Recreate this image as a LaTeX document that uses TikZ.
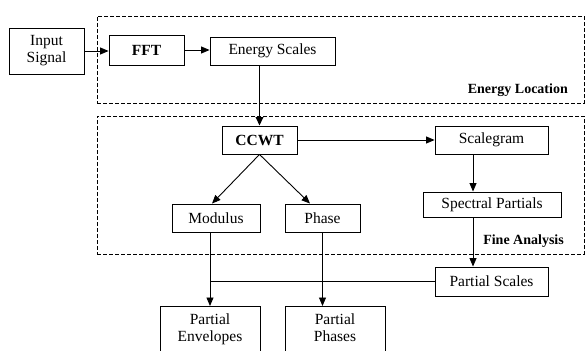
\documentclass[tikz,border=0pt]{standalone}
\usepackage{fontspec}
\setmainfont{Liberation Serif}
\usetikzlibrary{arrows.meta,calc}
\begin{document}
\begin{tikzpicture}[x=1pt,y=-1pt,
  box/.style={draw,line width=0.9pt,inner sep=0pt,font=\fontsize{15.5}{17}\selectfont,align=center},
  region/.style={draw,line width=0.8pt,dash pattern=on 4pt off 2pt,inner sep=0pt},
  arr/.style={line width=0.9pt,-{Triangle[length=8.5pt,width=7pt]}},
  thickarr/.style={line width=1.7pt,-{Triangle[length=8.5pt,width=7.5pt]}},
  conn/.style={line width=0.9pt},
  tag/.style={font=\fontsize{14}{16}\selectfont\bfseries,inner sep=0pt}]
\useasboundingbox (0,0) rectangle (585,350);
\clip (0,0) rectangle (585,350);
% regions
\node[region,minimum width=487pt,minimum height=87pt] (el) at (340.5,59.5) {};
\node[region,minimum width=487pt,minimum height=138pt] (fa) at (340.5,185) {};
\node[tag,anchor=east] (ellab) at (568,90) {Energy Location};
\node[tag,anchor=east] (falab) at (564,241) {Fine Analysis};
% boxes
\node[box,minimum width=75pt,minimum height=46pt] (in) at (46.5,51) {Input\\Signal};
\node[box,minimum width=75pt,minimum height=30pt,font=\fontsize{15.5}{17}\selectfont\bfseries] (fft) at (146.5,50) {FFT};
\node[box,minimum width=125pt,minimum height=28pt] (es) at (272.5,51) {Energy Scales};
\node[box,minimum width=75pt,minimum height=28pt,font=\fontsize{15.5}{17}\selectfont\bfseries] (ccwt) at (259.5,140) {CCWT};
\node[box,minimum width=113pt,minimum height=28pt] (sg) at (491.5,140) {Scalegram};
\node[box,minimum width=138pt,minimum height=25pt] (sp) at (492,204.5) {Spectral Partials};
\node[box,minimum width=88pt,minimum height=28pt] (mod) at (216,218) {Modulus};
\node[box,minimum width=75pt,minimum height=28pt] (ph) at (322.5,218) {Phase};
\node[box,minimum width=113pt,minimum height=29pt] (ps) at (491.5,281.5) {Partial Scales};
\node[box,anchor=north,minimum width=100pt,inner ysep=7pt,text depth=30pt] (pe) at (210,306) {Partial\\Envelopes};
\node[box,anchor=north,minimum width=100pt,inner ysep=7pt,text depth=30pt] (pp) at (335,306) {Partial\\Phases};
% connectors
\draw[arr] (in.east) -- (in.east -| fft.west);
\draw[arr] (fft.east) -- (fft.east -| es.west);
\draw[thickarr] (es.south -| ccwt.north) -- (ccwt.north);
\draw[arr] (ccwt.east) -- (ccwt.east -| sg.west);
\draw[arr] (ccwt.south) -- ([xshift=-4pt]mod.north);
\draw[arr] (ccwt.south) -- ([xshift=-12.5pt]ph.north);
\draw[arr] ([xshift=-18.5pt]sg.south) -- ([xshift=-18.5pt]sg.south |- sp.north);
\draw[arr] ([xshift=-19pt]sp.south) -- ([xshift=-19pt]sp.south |- ps.north);
\draw[arr] (pe.north |- mod.south) -- (pe.north);
\draw[conn] (ps.west) -- (ps.west -| pe.north);
\draw[arr] (ph.south) -- (ph.south |- pp.north);
\end{tikzpicture}
\end{document}
